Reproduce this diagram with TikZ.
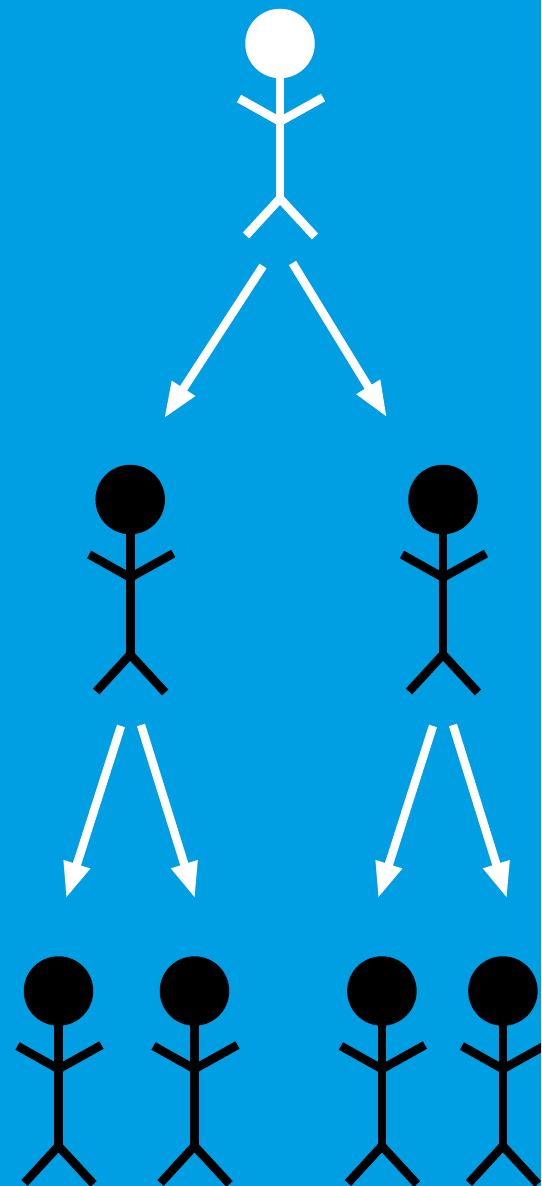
\documentclass[tikz,border=0pt]{standalone}
\usetikzlibrary{arrows.meta}
\definecolor{skyback}{HTML}{009EE3}
\tikzset{
  limb/.style={line width=8.6pt,line cap=butt,line join=miter},
  headdot/.style={circle,inner sep=0pt,minimum size=69.5pt,draw=none},
  flowarrow/.style={draw=white,fill=white,line width=8.4pt,line cap=butt,
    -{Triangle[length=36pt,width=25.5pt]}},
  pics/stick/.style={code={
    \node[headdot,fill=#1] (-head) at (0,0) {};
    \draw[limb,draw=#1] (0,30) -- (0,155);
    \draw[limb,draw=#1] (-41,-23+78) -- (0,78) -- (43,-24+78);
    \draw[limb,draw=#1] (-34,192) -- (0,155) -- (35,193);
  }}
}
\begin{document}
\begin{tikzpicture}[x=1pt,y=-1pt]
  \useasboundingbox (0,0) rectangle (541,1186);
  \clip (0,0) rectangle (541,1186);
  \fill[skyback] (0,0) rectangle (541,1186);
  \pic (boss) at (280,43.5) {stick=white};
  \pic (midL) at (130.2,499.5) {stick=black};
  \pic (midR) at (443,499.5) {stick=black};
  \pic (lowA) at (58.5,991) {stick=black};
  \pic (lowB) at (194.5,991) {stick=black};
  \pic (lowC) at (381.9,991) {stick=black};
  \pic (lowD) at (502.9,991) {stick=black};
  \coordinate (a1s) at (263,266);
  \coordinate (a1e) at (164,418.5);
  \coordinate (a2s) at (292.5,263);
  \coordinate (a2e) at (387,417.5);
  \coordinate (a3s) at (121,726);
  \coordinate (a3e) at (66,898.5);
  \coordinate (a4s) at (141,725);
  \coordinate (a4e) at (195,898.5);
  \coordinate (a5s) at (433,726);
  \coordinate (a5e) at (378,898.5);
  \coordinate (a6s) at (453,725);
  \coordinate (a6e) at (507,898.5);
  \draw[flowarrow] (a1s) -- (a1e);
  \draw[flowarrow] (a2s) -- (a2e);
  \draw[flowarrow] (a3s) -- (a3e);
  \draw[flowarrow] (a4s) -- (a4e);
  \draw[flowarrow] (a5s) -- (a5e);
  \draw[flowarrow] (a6s) -- (a6e);
\end{tikzpicture}
\end{document}
